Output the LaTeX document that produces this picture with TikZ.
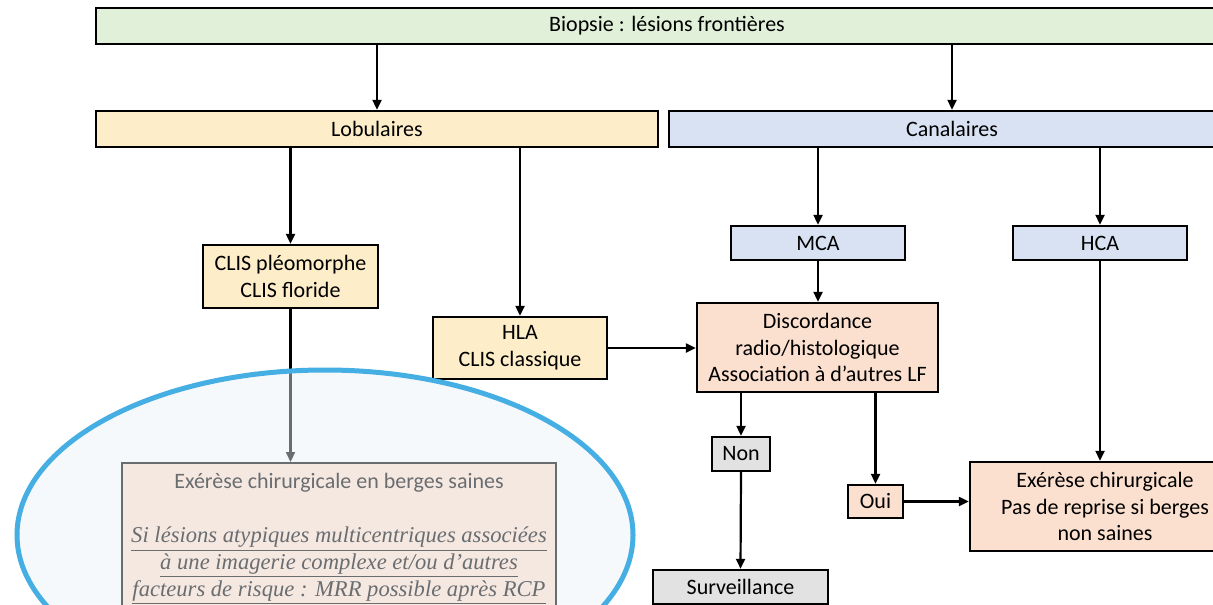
\documentclass[tikz,border=0pt]{standalone}
\usepackage{fontspec}
\setmainfont{Carlito}
\newfontfamily\timesit{Liberation Serif}
\usetikzlibrary{arrows.meta,positioning}
\definecolor{vertpale}  {HTML}{E1F0D9}
\definecolor{jaunepale} {HTML}{FDEDC9}
\definecolor{bleupale}  {HTML}{D9E2F2}
\definecolor{saumon}    {HTML}{FBDFCF}
\definecolor{grispale}  {HTML}{E2E2E2}
\definecolor{bleuvif}   {HTML}{45AEE2}
\definecolor{voile}     {HTML}{EDF3F9}
\tikzset{
  boite/.style={draw=black,line width=1.2pt,inner sep=0pt,align=center,
                font=\fontsize{11}{13.4}\selectfont},
  fleche/.style={-{Triangle[length=5pt,width=4.5pt]},line width=1.1pt},
}

\begin{document}
\begin{tikzpicture}[x=0.5pt,y=-0.5pt]
      \useasboundingbox (0,0) rectangle (1213,604);
      \clip (0,0) rectangle (1213,604);
      \fill[white] (0,0) rectangle (1213,604);

      \node[boite,fill=vertpale,minimum width=571pt,minimum height=18pt]
        (biopsie) at (667,26) {Biopsie : lésions frontières};
      \node[boite,fill=jaunepale,minimum width=281pt,minimum height=18pt]
        (lobul) at (377,129) {Lobulaires};
      \node[boite,fill=bleupale,minimum width=283pt,minimum height=18pt]
        (canal) at (952,129) {Canalaires};
      \node[boite,fill=jaunepale,minimum width=87.5pt,minimum height=31.5pt]
        (clispleo) at (290.5,276.5) {CLIS pléomorphe\\CLIS floride};
      \node[boite,fill=jaunepale,minimum width=87pt,minimum height=31pt]
        (hla) at (520,348) {HLA\\CLIS classique};
      \node[boite,fill=bleupale,minimum width=87pt,minimum height=17pt]
        (mca) at (818,243) {MCA};
      \node[boite,fill=bleupale,minimum width=87pt,minimum height=17pt]
        (hca) at (1100,243) {HCA};
      \node[boite,fill=saumon,minimum width=120.5pt,minimum height=44.5pt]
        (disc) at (817.5,347.5) {Discordance\\radio/histologique\\Association à d’autres LF};
      \node[boite,fill=grispale,minimum width=29pt,minimum height=17pt]
        (non) at (741,454) {Non};
      \node[boite,fill=saumon,minimum width=27.5pt,minimum height=16.5pt]
        (oui) at (875.5,501.5) {Oui};
      \node[boite,fill=grispale,minimum width=87.5pt,minimum height=17pt]
        (surv) at (740.5,587) {Surveillance};
      \node[boite,fill=saumon,minimum width=135pt,minimum height=44.5pt]
        (exer) at (1105,506.5) {Exérèse chirurgicale\\Pas de reprise si berges\\non saines};
      \node[boite,fill=saumon,minimum width=217pt,minimum height=76pt,
            anchor=north,inner ysep=4pt]
        (exerg) at (339,462)
        {Exérèse chirurgicale en berges saines\\ \mbox{}\\
         {\timesit\itshape\fontsize{11.3}{13.4}\selectfont\underline{Si lésions atypiques multicentriques associées}}\\
         {\timesit\itshape\fontsize{11.3}{13.4}\selectfont\underline{à une imagerie complexe et/ou d’autres}}\\
         {\timesit\itshape\fontsize{11.3}{13.4}\selectfont\underline{facteurs de risque : MRR possible après RCP}}};

      \draw[fleche] (lobul.north |- biopsie.south) -- (lobul.north);
      \draw[fleche] (canal.north |- biopsie.south) -- (canal.north);
      \draw[fleche] (clispleo.north |- lobul.south) -- (clispleo.north);
      \draw[fleche] (hla.north |- lobul.south) -- (hla.north);
      \draw[fleche] (mca.north |- canal.south) -- (mca.north);
      \draw[fleche] (hca.north |- canal.south) -- (hca.north);
      \draw[fleche] (mca.south) -- (disc.north -| mca.south);
      \draw[fleche] (hla.east) -- (hla.east -| disc.west);
      \draw[fleche] (non.north |- disc.south) -- (non.north);
      \draw[fleche] (oui.north |- disc.south) -- (oui.north);
      \draw[fleche] (non.south) -- (surv.north);
      \draw[fleche] (oui.east) -- (oui.east -| exer.west);
      \draw[fleche] (hca.south) -- (exer.north -| hca.south);
      \draw[fleche] (clispleo.south) -- (exerg.north -| clispleo.south);

      \draw[draw=bleuvif,line width=2.5pt,fill=voile,fill opacity=0.45]
        (325,535) ellipse [x radius=308,y radius=165];
    \end{tikzpicture}
\end{document}
